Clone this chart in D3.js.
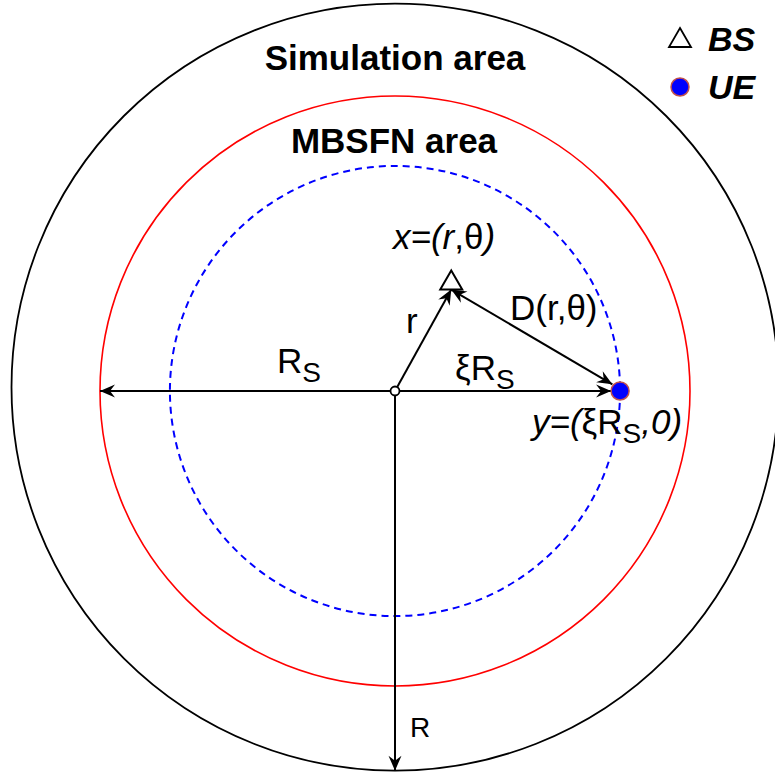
<!DOCTYPE html>
<html>
<head>
<meta charset="utf-8">
<script src="https://cdn.jsdelivr.net/npm/d3@7"></script>
<style>
  body { margin: 0; background: #fff; }
  svg { display: block; }
  text { font-family: "Liberation Sans", Arial, sans-serif; fill: #000; }
</style>
</head>
<body>
<div id="diagram"></div>
<script>

// data, in units of Rs (MBSFN radius)
const AREA_NAMES = ["Simulation area", "MBSFN area", "UE ring"];
const AREA_RADII = [1.30, 1.0, 0.763];
const AREA_CY = [0.013, 0, 0];          // simulation circle sits a bit higher
const BS_POINT = {r: 0.42, theta: 63};   // x = (r, theta)
const UE_POINT = {x: 0.763, y: 0};       // y = (xi Rs, 0)
const LEGEND_ITEMS = ["BS", "UE"];

const FRAME_WIDTH = 775;
const FRAME_HEIGHT = 778;

// scales (origin at 395,391 ; 295 px per Rs)
const X_SCALE = d3.scaleLinear().domain([0, 1]).range([395, 690]);
const Y_SCALE = d3.scaleLinear().domain([0, 1]).range([391, 96]);
const R_SCALE = (v) => X_SCALE(v) - X_SCALE(0);

const FRAME = d3.select("#diagram")
                .append("svg")
                  .attr("width", FRAME_WIDTH)
                  .attr("height", FRAME_HEIGHT);

// arrow head marker
const DEFS = FRAME.append("defs");
DEFS.append("marker")
      .attr("id", "head")
      .attr("markerUnits", "userSpaceOnUse")
      .attr("viewBox", "-16 -8 18 16")
      .attr("refX", 0)
      .attr("refY", 0)
      .attr("markerWidth", 18)
      .attr("markerHeight", 16)
      .attr("orient", "auto-start-reverse")
    .append("path")
      .attr("d", "M0,0 L-15,-6.5 L-10,0 L-15,6.5 Z")
      .attr("fill", "#000");

// the three circles
const AREA_STYLE = [
  {stroke: "#000", width: 1.8, dash: null},
  {stroke: "#ff0000", width: 1.6, dash: null},
  {stroke: "#0000ff", width: 2, dash: "7,5"}
];

FRAME.selectAll(".area")
    .data(AREA_RADII)
    .enter()
    .append("circle")
      .attr("class", "area")
      .attr("cx", X_SCALE(0))
      .attr("cy", (d, i) => Y_SCALE(AREA_CY[i]))
      .attr("r", (d) => R_SCALE(d))
      .attr("fill", "none")
      .attr("stroke", (d, i) => AREA_STYLE[i].stroke)
      .attr("stroke-width", (d, i) => AREA_STYLE[i].width)
      .attr("stroke-dasharray", (d, i) => AREA_STYLE[i].dash);

// positions
const bsX = BS_POINT.r * Math.cos(BS_POINT.theta * Math.PI / 180);
const bsY = BS_POINT.r * Math.sin(BS_POINT.theta * Math.PI / 180);
const ueR = 9;   // px radius of the UE dot

// arrows
function arrow(x1, y1, x2, y2, both) {
  const line = FRAME.append("line")
      .attr("x1", x1).attr("y1", y1)
      .attr("x2", x2).attr("y2", y2)
      .attr("stroke", "#000")
      .attr("stroke-width", 2)
      .attr("marker-end", "url(#head)");
  if (both) line.attr("marker-start", "url(#head)");
}

// Rs to the left, xi Rs to the right
arrow(X_SCALE(0), Y_SCALE(0), X_SCALE(-AREA_RADII[1]), Y_SCALE(0), false);
arrow(X_SCALE(0), Y_SCALE(0), X_SCALE(UE_POINT.x) - ueR, Y_SCALE(0), false);
// R downwards
arrow(X_SCALE(0), Y_SCALE(0), X_SCALE(0), Y_SCALE(AREA_CY[0] - AREA_RADII[0]), false);
// r towards BS
const bsPx = X_SCALE(bsX), bsPy = Y_SCALE(bsY);
arrow(X_SCALE(0), Y_SCALE(0), bsPx, bsPy + 9, false);
// D between BS and UE
const ueAng = Math.atan2(Y_SCALE(UE_POINT.y) - (bsPy + 9), X_SCALE(UE_POINT.x) - bsPx);
arrow(bsPx, bsPy + 9,
      X_SCALE(UE_POINT.x) - ueR * Math.cos(ueAng) , Y_SCALE(UE_POINT.y) - ueR * Math.sin(ueAng) - 2, true);

// origin
FRAME.append("circle")
    .attr("cx", X_SCALE(0)).attr("cy", Y_SCALE(0))
    .attr("r", 4.5)
    .attr("fill", "#fff").attr("stroke", "#000").attr("stroke-width", 1.8);

// BS triangle + UE dot
const triangle = (cx, cy) => "M" + cx + "," + (cy - 10) +
                             " L" + (cx + 11) + "," + (cy + 9) +
                             " L" + (cx - 11) + "," + (cy + 9) + " Z";

FRAME.append("path")
    .attr("d", triangle(bsPx, bsPy))
    .attr("fill", "#fff").attr("stroke", "#000").attr("stroke-width", 2);

FRAME.append("circle")
    .attr("cx", X_SCALE(UE_POINT.x)).attr("cy", Y_SCALE(UE_POINT.y))
    .attr("r", ueR)
    .attr("fill", "#0000ff").attr("stroke", "#c0504d").attr("stroke-width", 1.5);

// legend
const LEG = FRAME.append("g").attr("transform", "translate(680,0)");
LEG.append("path").attr("d", triangle(0, 38))
    .attr("fill", "#fff").attr("stroke", "#000").attr("stroke-width", 1.8);
LEG.append("circle").attr("cx", 0).attr("cy", 87).attr("r", 9)
    .attr("fill", "#0000ff").attr("stroke", "#c0504d").attr("stroke-width", 1.5);
LEG.selectAll(".leg")
    .data(LEGEND_ITEMS)
    .enter()
    .append("text")
      .attr("x", 28)
      .attr("y", (d, i) => 51 + i * 48)
      .attr("font-size", 34)
      .attr("font-weight", "bold")
      .attr("font-style", "italic")
      .text((d) => d);

// area titles
FRAME.append("text")
    .attr("x", X_SCALE(0)).attr("y", 70)
    .attr("text-anchor", "middle")
    .attr("font-size", 35).attr("font-weight", "bold")
    .text(AREA_NAMES[0]);
FRAME.append("text")
    .attr("x", X_SCALE(0) - 1).attr("y", 153)
    .attr("text-anchor", "middle")
    .attr("font-size", 35).attr("font-weight", "bold")
    .text(AREA_NAMES[1]);

// labels
function label(x, y, parts, size) {
  const t = FRAME.append("text").attr("x", x).attr("y", y).attr("font-size", size || 35);
  parts.forEach((p) => {
    const s = t.append("tspan").text(p.t);
    if (p.i) s.attr("font-style", "italic");
    if (p.sub) s.attr("font-size", 28).attr("dy", 9);
    if (p.up) s.attr("dy", -9);
  });
  return t;
}

label(393, 249, [{t: "x=(", i: 1}, {t: "r", i: 1}, {t: ",θ"}, {t: ")", i: 1}]);
label(406, 333, [{t: "r"}]);
label(510, 320, [{t: "D(r,θ)"}]);
label(277, 373, [{t: "R"}, {t: "S", sub: 1}]);
label(455, 380, [{t: "ξR"}, {t: "S", sub: 1}]);
label(532, 434, [{t: "y=(", i: 1}, {t: "ξR"}, {t: "S", sub: 1}, {t: ",0)", i: 1, up: 1}]);
label(410, 737, [{t: "R"}], 28);

</script>
</body>
</html>
